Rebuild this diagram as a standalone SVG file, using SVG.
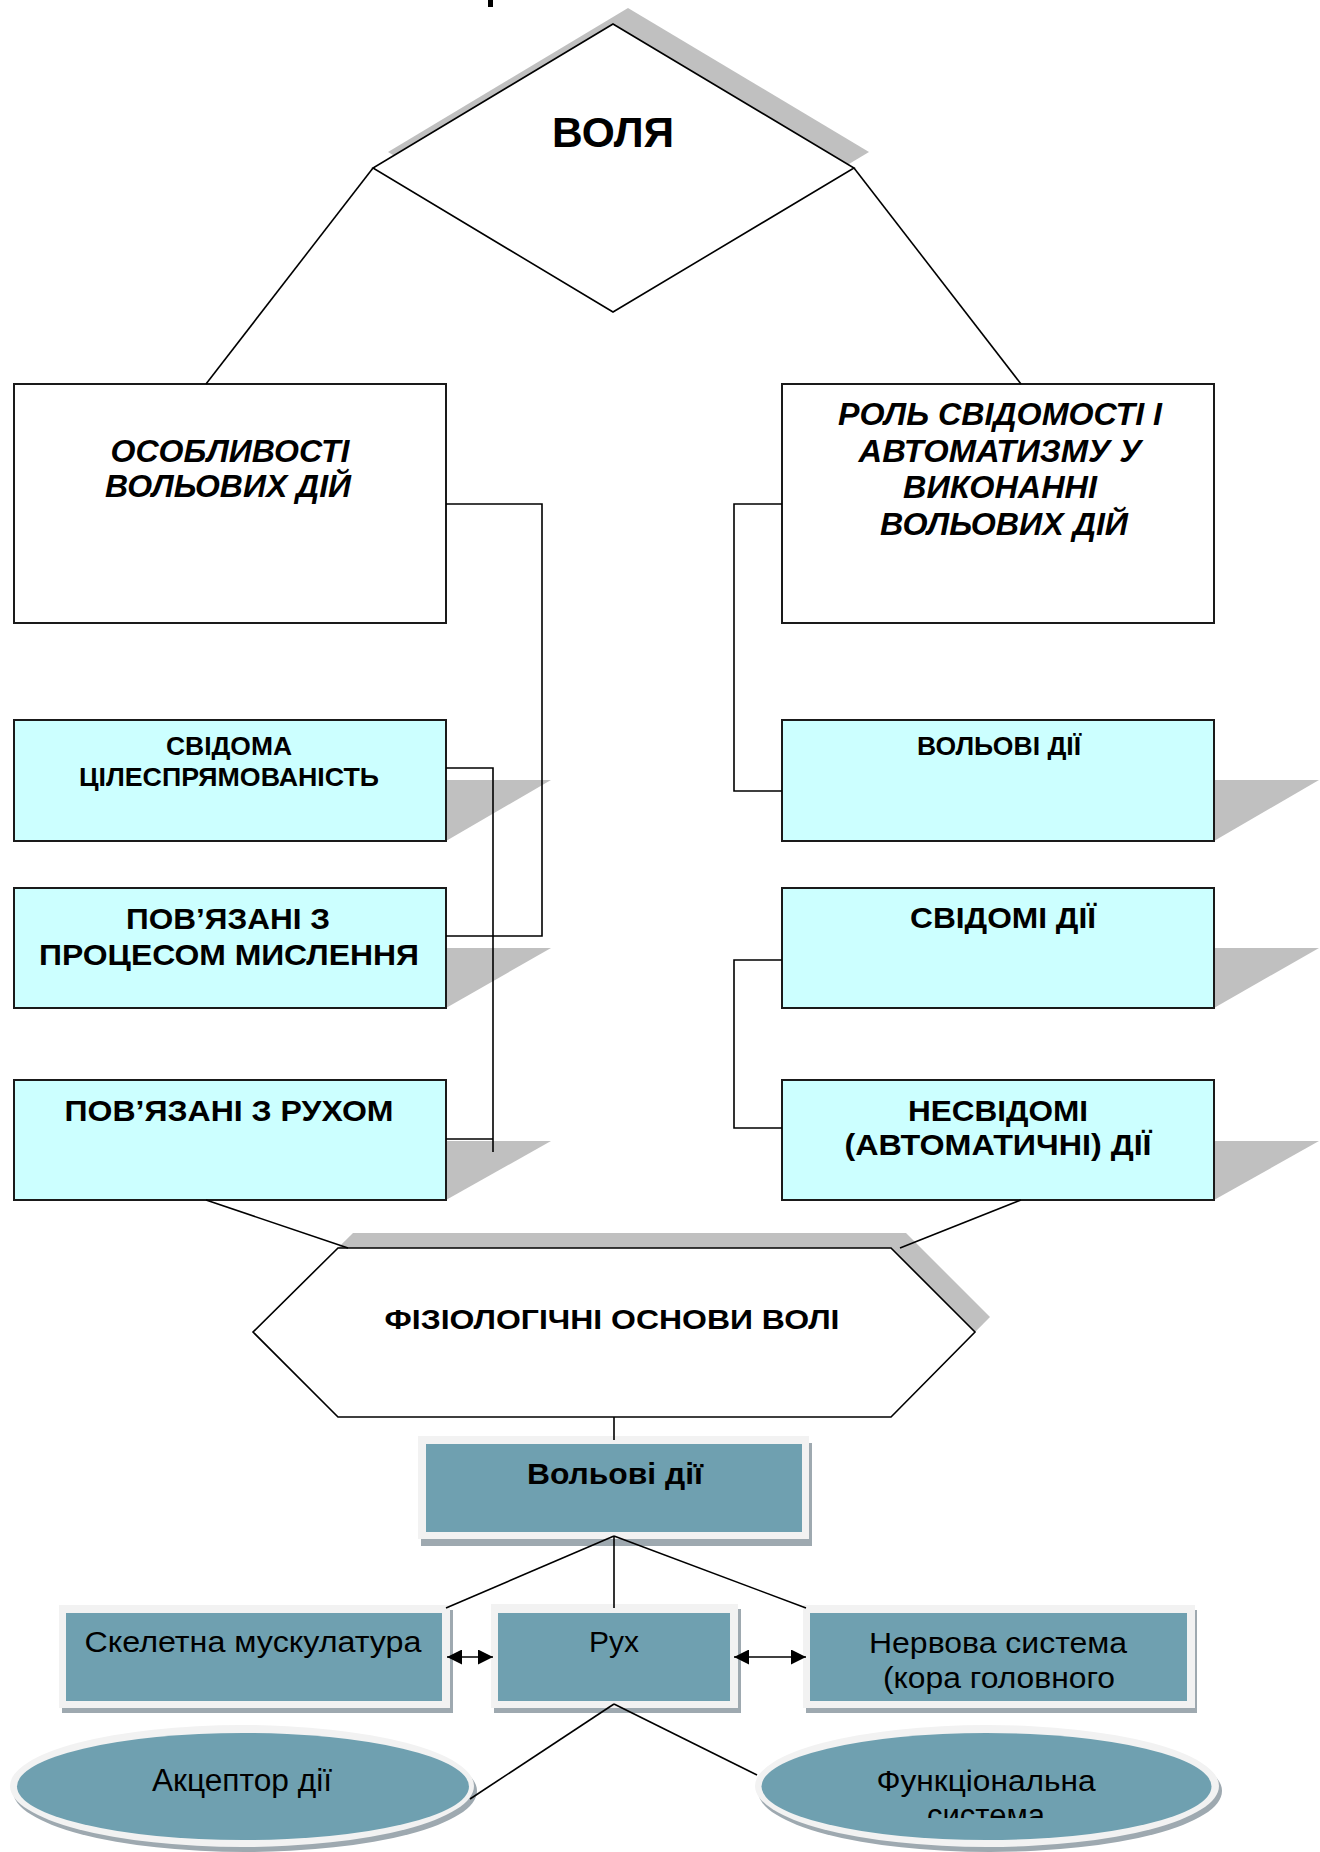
<svg xmlns="http://www.w3.org/2000/svg" width="1320" height="1852" viewBox="0 0 1320 1852">
<style>
  .ln{fill:none;stroke:#000;stroke-width:1.6}
  .box{fill:#fff;stroke:#1a1a1a;stroke-width:2}
  .cy{fill:#ccffff;stroke:#1a1a1a;stroke-width:2}
  .sh{fill:#c0c0c0}
  .fr{fill:#f2f2f2}
  .fs{fill:#9ea9b0}
  .tl{fill:#6fa0b0}
  .t{font-family:"Liberation Sans",Arial,sans-serif;fill:#000;text-anchor:middle}
  .b{font-weight:bold}
  .i{font-style:italic}
</style>
<defs>
  <marker id="ah" viewBox="0 0 10 10" refX="10" refY="5" markerWidth="16" markerHeight="15" markerUnits="userSpaceOnUse" orient="auto-start-reverse">
    <path d="M0,0 L10,5 L0,10 Z" fill="#000"/>
  </marker>
  <clipPath id="clipF"><rect x="700" y="1700" width="600" height="118"/></clipPath>
</defs>

<rect x="488" y="0" width="5" height="7" fill="#000"/>

<g id="n-volya">
  <polygon class="sh" points="628,8 869,152 628,296 388,152"/>
  <polygon fill="#fff" stroke="#000" stroke-width="1.6" points="613,24 854,168 613,312 373,168"/>
  <text class="t b" x="613" y="147" font-size="43" textLength="122" lengthAdjust="spacingAndGlyphs">ВОЛЯ</text>
</g>

<g id="n-osob">
  <rect class="box" x="14" y="384" width="432" height="239"/>
  <text class="t b i" x="230" y="462" font-size="31" textLength="239" lengthAdjust="spacingAndGlyphs">ОСОБЛИВОСТІ</text>
  <text class="t b i" x="228" y="497" font-size="31" textLength="246" lengthAdjust="spacingAndGlyphs">ВОЛЬОВИХ ДІЙ</text>
</g>

<g id="n-rol">
  <rect class="box" x="782" y="384" width="432" height="239"/>
  <text class="t b i" x="1000" y="425" font-size="31" textLength="324" lengthAdjust="spacingAndGlyphs">РОЛЬ СВІДОМОСТІ І</text>
  <text class="t b i" x="1000" y="462" font-size="31" textLength="283" lengthAdjust="spacingAndGlyphs">АВТОМАТИЗМУ У</text>
  <text class="t b i" x="1000" y="498" font-size="31" textLength="194" lengthAdjust="spacingAndGlyphs">ВИКОНАННІ</text>
  <text class="t b i" x="1004" y="535" font-size="31" textLength="248" lengthAdjust="spacingAndGlyphs">ВОЛЬОВИХ ДІЙ</text>
</g>

<g id="n-svidoma">
  <polygon class="sh" points="446,780 551,780 446,841"/>
  <rect class="cy" x="14" y="720" width="432" height="121"/>
  <text class="t b" x="229" y="755" font-size="25" textLength="126" lengthAdjust="spacingAndGlyphs">СВІДОМА</text>
  <text class="t b" x="229" y="786" font-size="25" textLength="300" lengthAdjust="spacingAndGlyphs">ЦІЛЕСПРЯМОВАНІСТЬ</text>
</g>

<g id="n-myslennya">
  <polygon class="sh" points="446,948 551,948 446,1008"/>
  <rect class="cy" x="14" y="888" width="432" height="120"/>
  <text class="t b" x="228" y="929" font-size="30" textLength="204" lengthAdjust="spacingAndGlyphs">ПОВ’ЯЗАНІ З</text>
  <text class="t b" x="229" y="965" font-size="30" textLength="380" lengthAdjust="spacingAndGlyphs">ПРОЦЕСОМ МИСЛЕННЯ</text>
</g>

<g id="n-ruhom">
  <polygon class="sh" points="446,1141 551,1141 446,1200"/>
  <rect class="cy" x="14" y="1080" width="432" height="120"/>
  <text class="t b" x="229" y="1121" font-size="30" textLength="329" lengthAdjust="spacingAndGlyphs">ПОВ’ЯЗАНІ З РУХОМ</text>
</g>

<g id="n-volovi">
  <polygon class="sh" points="1214,780 1319,780 1214,841"/>
  <rect class="cy" x="782" y="720" width="432" height="121"/>
  <text class="t b" x="999" y="755" font-size="25" textLength="164" lengthAdjust="spacingAndGlyphs">ВОЛЬОВІ ДІЇ</text>
</g>

<g id="n-svidomi">
  <polygon class="sh" points="1214,948 1319,948 1214,1008"/>
  <rect class="cy" x="782" y="888" width="432" height="120"/>
  <text class="t b" x="1003" y="928" font-size="30" textLength="186" lengthAdjust="spacingAndGlyphs">СВІДОМІ ДІЇ</text>
</g>

<g id="n-nesvidomi">
  <polygon class="sh" points="1214,1141 1319,1141 1214,1200"/>
  <rect class="cy" x="782" y="1080" width="432" height="120"/>
  <text class="t b" x="998" y="1121" font-size="30" textLength="180" lengthAdjust="spacingAndGlyphs">НЕСВІДОМІ</text>
  <text class="t b" x="998" y="1155" font-size="30" textLength="307" lengthAdjust="spacingAndGlyphs">(АВТОМАТИЧНІ) ДІЇ</text>
</g>

<g id="n-fiz">
  <polygon class="sh" points="353,1233 906,1233 990,1317 906,1402 353,1402 268,1317"/>
  <polygon fill="#fff" stroke="#000" stroke-width="1.6" points="338,1248 891,1248 975,1332 891,1417 338,1417 253,1332"/>
  <text class="t b" x="612" y="1329" font-size="28" textLength="455" lengthAdjust="spacingAndGlyphs">ФІЗІОЛОГІЧНІ ОСНОВИ ВОЛІ</text>
</g>

<g id="n-voldii">
  <rect class="fs" x="421" y="1443" width="391" height="103"/>
  <rect class="fr" x="418" y="1436" width="391" height="103"/>
  <rect class="tl" x="426" y="1444" width="376" height="88"/>
  <text class="t b" x="615" y="1484" font-size="30" textLength="176" lengthAdjust="spacingAndGlyphs">Вольові дії</text>
</g>

<g id="n-skelet">
  <rect class="fs" x="62" y="1610" width="391" height="103"/>
  <rect class="fr" x="59" y="1605" width="391" height="103"/>
  <rect class="tl" x="66" y="1613" width="376" height="88"/>
  <text class="t" x="253" y="1652" font-size="30" textLength="337" lengthAdjust="spacingAndGlyphs">Скелетна мускулатура</text>
</g>

<g id="n-ruh">
  <rect class="fs" x="494" y="1609" width="247" height="104"/>
  <rect class="fr" x="491" y="1604" width="247" height="104"/>
  <rect class="tl" x="498" y="1613" width="232" height="88"/>
  <text class="t" x="614" y="1652" font-size="30" textLength="50" lengthAdjust="spacingAndGlyphs">Рух</text>
</g>

<g id="n-nerv">
  <rect class="fs" x="806" y="1610" width="391" height="103"/>
  <rect class="fr" x="803" y="1605" width="392" height="103"/>
  <rect class="tl" x="810" y="1613" width="377" height="88"/>
  <text class="t" x="998" y="1653" font-size="30" textLength="258" lengthAdjust="spacingAndGlyphs">Нервова система</text>
  <text class="t" x="999" y="1688" font-size="30" textLength="232" lengthAdjust="spacingAndGlyphs">(кора головного</text>
</g>

<g id="n-akc">
  <ellipse class="fs" cx="245" cy="1791" rx="232" ry="61"/>
  <ellipse class="fr" cx="242" cy="1786" rx="232" ry="61"/>
  <ellipse class="tl" cx="243" cy="1786.5" rx="226" ry="53.5"/>
  <text class="t" x="242" y="1791" font-size="31" textLength="180" lengthAdjust="spacingAndGlyphs">Акцептор дії</text>
</g>

<g id="n-funk">
  <ellipse class="fs" cx="990" cy="1791" rx="232" ry="61"/>
  <ellipse class="fr" cx="987" cy="1786" rx="232" ry="61"/>
  <ellipse class="tl" cx="986.5" cy="1786.5" rx="225" ry="53.5"/>
  <text class="t" x="986" y="1791" font-size="30" textLength="219" lengthAdjust="spacingAndGlyphs">Функціональна</text>
  <text class="t" x="986" y="1826" font-size="31" clip-path="url(#clipF)">система</text>
</g>

<g id="connectors">
  <line class="ln" x1="373" y1="168" x2="206" y2="384"/>
  <line class="ln" x1="854" y1="168" x2="1021" y2="384"/>
  <polyline class="ln" points="446,504 542,504 542,936 446,936"/>
  <polyline class="ln" points="446,768 493,768 493,1152"/>
  <line class="ln" x1="446" y1="1139" x2="493" y2="1139"/>
  <polyline class="ln" points="782,504 734,504 734,791 782,791"/>
  <polyline class="ln" points="782,960 734,960 734,1128 782,1128"/>
  <line class="ln" x1="206" y1="1200" x2="348" y2="1248"/>
  <line class="ln" x1="1021" y1="1200" x2="900" y2="1248"/>
  <line class="ln" x1="614" y1="1417" x2="614" y2="1440"/>
  <line class="ln" x1="614" y1="1536" x2="446" y2="1608"/>
  <line class="ln" x1="614" y1="1536" x2="614" y2="1608"/>
  <line class="ln" x1="614" y1="1536" x2="806" y2="1608"/>
  <line class="ln" x1="447" y1="1657" x2="493" y2="1657" marker-start="url(#ah)" marker-end="url(#ah)"/>
  <line class="ln" x1="734" y1="1657" x2="806" y2="1657" marker-start="url(#ah)" marker-end="url(#ah)"/>
  <line class="ln" x1="614" y1="1704" x2="470" y2="1799"/>
  <line class="ln" x1="614" y1="1704" x2="757" y2="1775"/>
</g>
</svg>
